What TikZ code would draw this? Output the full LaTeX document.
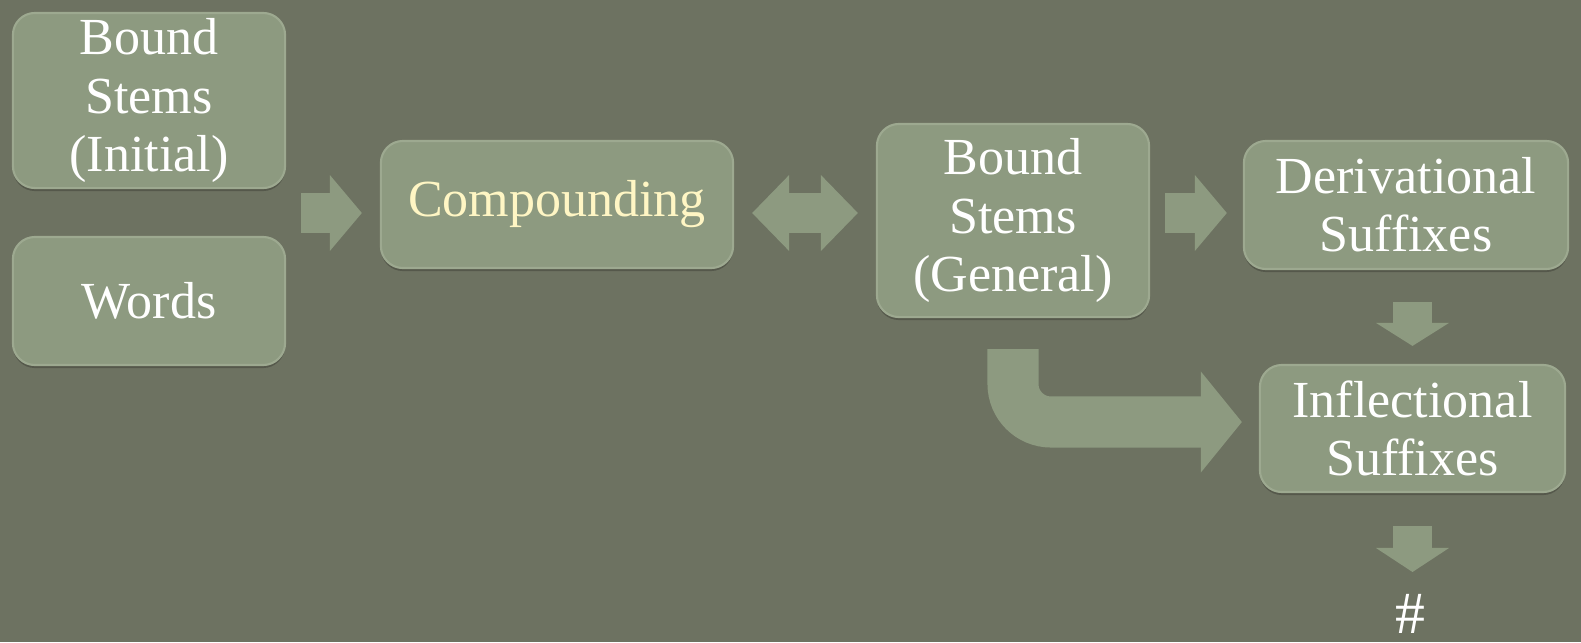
\documentclass[tikz,border=0pt]{standalone}
\usepackage{fontspec}
\setmainfont{Liberation Serif}
\usetikzlibrary{arrows.meta}
\usetikzlibrary{calc}
\usetikzlibrary{shadows}

\definecolor{slate}{HTML}{6D7261}
\definecolor{boxfill}{HTML}{8D9A80}
\definecolor{boxedge}{HTML}{9DA990}
\definecolor{paleyellow}{HTML}{FFF6C4}

\begin{document}
\begin{tikzpicture}[x=0.01cm, y=-0.01cm,
    box/.style={draw=boxedge, line width=0.6pt, fill=boxfill, rounded corners=0.22cm,
      text=white, align=center, inner sep=0pt, font=\fontsize{14.8}{16.5}\selectfont,
      drop shadow={shadow xshift=0pt, shadow yshift=-0.03cm, fill=black, opacity=0.22}},
    fat/.style={draw=boxfill, line width=0.39cm,
      -{Triangle[length=0.32cm, width=0.76cm, line width=0pt]}},
    fatboth/.style={draw=boxfill, line width=0.40cm,
      {Triangle[length=0.37cm, width=0.76cm, line width=0pt]}-{Triangle[length=0.37cm, width=0.76cm, line width=0pt]}}]
            \fill[slate] (0,0) rectangle (1581,642);
            \useasboundingbox (0,0) rectangle (1581,642);

            \node[box, minimum width=2.72cm, minimum height=1.75cm] (bsi) at (149,100.5) {Bound\\Stems\\(Initial)};
            \node[box, minimum width=2.72cm, minimum height=1.28cm] (words) at (149,301) {Words};
            \node[box, minimum width=3.52cm, minimum height=1.27cm, text=paleyellow] (comp) at (557,204.5) {Compounding};
            \node[box, minimum width=2.72cm, minimum height=1.93cm] (bsg) at (1013,220.5) {Bound\\Stems\\(General)};
            \node[box, minimum width=3.24cm, minimum height=1.28cm] (deriv) at (1406,205) {Derivational\\Suffixes};
            \node[box, minimum width=3.05cm, minimum height=1.27cm] (infl) at (1412.5,428.5) {Inflectional\\Suffixes};
            \node[text=white, inner sep=0pt, anchor=north, font=\fontsize{17}{20}\selectfont] (hash) at (1410,594) {\#};

            \coordinate (row) at (0,213);
            \coordinate (turn) at (0,422);

            \draw[fat, shorten <=0.15cm, shorten >=0.18cm] (bsi.east |- row) -- (comp.west |- row);
            \draw[fatboth, shorten <=0.18cm, shorten >=0.18cm] (comp.east |- row) -- (bsg.west |- row);
            \draw[fat, shorten <=0.15cm, shorten >=0.16cm] (bsg.east |- row) -- (deriv.west |- row);
            \draw[fat, -{Triangle[length=0.23cm, width=0.73cm, line width=0pt]}, shorten <=0.32cm, shorten >=0.18cm] (deriv.south -| infl.north) -- (infl.north);
            \draw[fat, -{Triangle[length=0.24cm, width=0.73cm, line width=0pt]}, shorten <=0.33cm, shorten >=0.22cm] (infl.south) -- (infl.south |- hash.north);
            \draw[fat, line width=0.51cm, rounded corners=0.38cm, -{Triangle[length=0.41cm, width=1.01cm, line width=0pt]}, shorten <=0.31cm, shorten >=0.17cm] (bsg.south) -- (bsg.south |- turn) -- (infl.west |- turn);
        \end{tikzpicture}
\end{document}
